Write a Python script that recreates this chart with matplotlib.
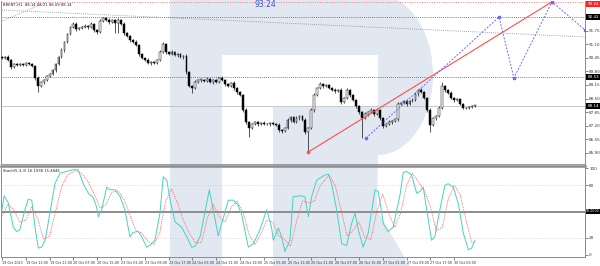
import numpy as np
import matplotlib
matplotlib.use("Agg")
import matplotlib.pyplot as plt
from matplotlib.patches import Polygon
from matplotlib.transforms import blended_transform_factory

# BRENT H1 closes, one per bar (bar 0 .. 159)
closes = [
  90.45,90.50,90.35,90.02,90.16,90.11,90.16,90.11,90.21,90.16,90.07,89.49,89.10,89.30,89.39,89.58,89.68,89.87,90.16,90.50,
  90.84,91.22,91.61,91.94,92.09,91.85,91.90,91.94,91.99,91.94,92.09,91.80,91.70,92.23,92.38,92.28,92.18,92.28,92.14,92.28,
  92.09,91.65,91.51,91.32,91.22,91.08,90.64,90.45,90.35,90.21,90.26,90.21,90.35,90.74,91.12,90.74,90.64,90.74,90.60,90.64,
  90.50,90.55,89.78,89.10,89.01,89.30,89.39,89.39,89.34,89.44,89.30,89.39,89.30,89.49,89.39,89.20,89.10,89.25,89.01,88.81,
  88.67,87.95,87.37,87.08,87.27,87.37,87.27,87.32,87.27,87.27,87.32,87.27,87.22,86.98,86.94,87.08,87.47,87.61,87.37,87.56,
  87.66,87.47,86.89,87.08,87.95,88.67,89.01,89.20,89.10,89.15,89.01,88.91,88.86,88.91,88.33,88.52,88.91,88.67,88.43,88.14,
  87.85,87.56,87.75,87.85,87.95,87.75,87.95,87.56,87.18,87.27,87.37,87.42,87.51,88.23,88.28,88.38,88.23,88.38,88.43,88.71,
  88.91,88.81,88.52,87.95,87.22,87.56,87.66,88.04,89.10,88.91,88.76,88.52,88.43,88.48,88.23,88.04,88.04,88.09,88.14,88.14,
]
first_open = 90.50
upper_wick = [
  .06,.05,.08,.04,.06,.05,.04,.06,.05,.04,.06,.05,.08,.06,.04,.05,.06,.04,.05,.06,
  .08,.06,.05,.06,.08,.1,.06,.05,.08,.06,.1,.06,.05,.08,.04,.06,.08,.05,.06,.08,
  .06,.08,.05,.06,.05,.08,.06,.05,.06,.08,.05,.06,.05,.08,.1,.05,.06,.08,.05,.06,
  .05,.06,.08,.05,.06,.08,.05,.06,.05,.08,.06,.05,.06,.05,.08,.06,.05,.06,.08,.05,
  .06,.05,.08,.06,.05,.06,.05,.06,.08,.05,.06,.05,.06,.08,.05,.06,.08,.06,.05,.08,
  .06,.05,.08,.06,.1,.08,.06,.08,.06,.05,.06,.05,.08,.06,.1,.06,.08,.05,.06,.05,
  .06,.05,.08,.06,.1,.05,.08,.06,.05,.06,.08,.06,.05,.08,.06,.05,.08,.06,.1,.08,
  .06,.08,.05,.06,.08,.06,.05,.08,.2,.06,.05,.08,.06,.05,.06,.05,.04,.05,.04,.03,
]
lower_wick = [
  .05,.06,.05,.08,.05,.04,.06,.05,.06,.04,.05,.08,.29,.06,.08,.05,.06,.05,.08,.06,
  .05,.08,.06,.05,.06,.08,.05,.06,.05,.08,.06,.08,.1,.05,.06,.05,.08,.06,.49,.49,
  .06,.1,.05,.08,.06,.05,.08,.06,.05,.06,.08,.05,.06,.05,.06,.08,.05,.06,.05,.08,
  .06,.08,.1,.06,.25,.06,.05,.08,.06,.05,.06,.08,.05,.06,.05,.08,.06,.05,.08,.1,
  .06,.08,.1,.43,.06,.05,.08,.06,.05,.06,.08,.05,.06,.1,.08,.06,.05,.08,.06,.05,
  .08,.06,.1,.97,.06,.08,.05,.06,.08,.06,.05,.06,.08,.06,.1,.06,.05,.08,.06,.1,
  .08,.96,.06,.08,.05,.1,.06,.08,.1,.06,.05,.08,.06,.08,.05,.06,.08,.05,.06,.05,
  .08,.06,.05,.1,.33,.06,.08,.05,.06,.08,.05,.06,.08,.05,.06,.05,.04,.06,.05,.04,
]

# Stochastic(5,3,3): main line and signal line, vertices (bar, value)
k_bar = [0, 0.7, 2.1, 3.8, 4.9, 6.0, 7.7, 8.8, 10.0, 11.1,
         12.2, 13.3, 14.5, 16.1, 17.8, 19.5, 21.7, 24.0, 25.6, 27.3,
         29.0, 30.7, 31.8, 32.4, 33.5, 35.2, 36.3, 38.0, 39.7, 41.3,
         43.0, 44.1, 45.8, 47.0, 48.6, 49.7, 51.4, 53.1, 54.2, 55.4,
         56.5, 58.2, 60.4, 62.1, 63.8, 64.9, 66.6, 69.7, 72.7, 76.1,
         77.8, 79.4, 80.6, 82.8, 84.5, 86.7, 89.0, 90.6, 91.2, 92.9,
         94.0, 95.1, 96.8, 97.9, 100.2, 101.8, 103.0, 104.1, 105.8, 108.6,
         109.7, 110.8, 112.5, 114.2, 115.9, 117.5, 118.7, 119.8, 121.4, 123.1,
         125.4, 126.5, 128.2, 129.8, 131.5, 133.8, 134.9, 136.0, 137.7, 139.4,
         140.5, 141.6, 142.8, 144.4, 145.5, 147.2, 148.9, 150.0, 151.7, 153.4,
         155.1, 156.8, 157.9, 159.0]
k_val = [52, 68, 60, 32, 27, 29, 52, 64, 63, 32,
         8, 9, 17, 48, 82, 94, 96, 98, 98, 82,
         71, 66, 55, 44, 52, 78, 75, 75, 67, 52,
         21, 26, 27, 21, 9, 11, 17, 48, 90, 86,
         63, 38, 32, 21, 9, 10, 21, 75, 22, 63,
         63, 57, 46, 9, 13, 29, 52, 32, 17, 31,
         21, 4, 17, 67, 68, 67, 44, 67, 86, 92,
         93, 82, 52, 13, 11, 36, 48, 29, 9, 25,
         75, 73, 36, 27, 32, 69, 95, 96, 92, 71,
         73, 78, 52, 17, 21, 52, 80, 82, 78, 59,
         25, 6, 8, 17]
d_bar = [0, 2, 4, 6, 8, 10, 12, 14, 16, 18, 20, 22, 25, 27, 29, 31, 33, 35, 37, 39,
         41, 43, 45, 47, 49, 51, 53, 55, 57, 59, 61, 63, 65, 67, 69, 71, 73, 75, 77, 79,
         81, 83, 85, 87, 89, 91, 93, 95, 97, 99, 101, 103, 105, 107, 110, 112, 114, 116, 118, 120,
         122, 124, 126, 128, 130, 132, 134, 136, 138, 140, 142, 144, 146, 148, 150, 152, 154, 156, 158, 159]
d_val = [45, 58, 52, 38, 40, 55, 42, 18, 22, 50, 78, 92, 97, 93, 84, 70, 54, 58, 72, 74,
         64, 46, 28, 25, 16, 12, 25, 62, 76, 60, 40, 25, 14, 14, 42, 58, 44, 38, 55, 62,
         50, 24, 12, 24, 40, 38, 22, 18, 10, 38, 62, 60, 62, 80, 92, 80, 52, 22, 28, 38,
         20, 18, 50, 70, 48, 32, 48, 80, 94, 84, 74, 56, 28, 32, 64, 80, 70, 40, 14, 15]

# levels and drawn objects
level_hi = 92.42
level_mid = 89.53
last_price = 88.14
target = 93.15
red_bars = [103, 184.9]
red_prices = [85.93, 93.15]
zig_bars = [122.4, 167.1, 172.1, 184.9, 196.0]
zig_prices = [86.60, 92.42, 89.49, 93.15, 91.80]
trend_bars = [-0.7, 196.0]
trend_prices = [92.76, 91.46]
fan_bars = [-0.7, 14.5]
fan_prices = [92.18, 93.10]

price_ticks = [91.75, 91.10, 90.45, 89.80, 89.15, 88.50, 87.85, 87.20, 86.55, 85.90]
stoch_ticks = [0, 20, 80, 100]
time_bars = list(range(0, 160, 8))
time_labels = ["19 Oct 2023", "19 Oct 13:00", "19 Oct 21:00", "20 Oct 07:00", "20 Oct 15:00",
               "23 Oct 01:00", "23 Oct 09:00", "23 Oct 17:00", "24 Oct 03:00", "24 Oct 11:00",
               "24 Oct 19:00", "25 Oct 05:00", "25 Oct 13:00", "25 Oct 21:00", "26 Oct 07:00",
               "26 Oct 15:00", "27 Oct 01:00", "27 Oct 09:00", "27 Oct 17:00", "30 Oct 03:00"]

W, H = 600, 266
fig = plt.figure(figsize=(W / 100, H / 100), dpi=100)
fig.patch.set_facecolor("white")

def px(x, y):
  return (x / W, 1 - y / H)

# big "R" watermark behind the chart
t = np.linspace(-np.pi / 2, np.pi / 2, 40)
arc = [(378 + 55 * np.cos(a), 75 + 80 * np.sin(a)) for a in t]
shape = [(170, -5)] + arc + [(377, 210), (412, 270), (273, 270), (273, 107),
                             (378, 107), (378, 55), (222, 55), (222, 270), (170, 270)]
fig.add_artist(Polygon([px(x, y) for x, y in shape], closed=True,
                       transform=fig.transFigure, fc="#e1e8f1", ec="none", zorder=-1))

ax = fig.add_axes([1 / W, 1 - 164 / H, 584 / W, 163 / H])
axs = fig.add_axes([1 / W, 1 - 257 / H, 584 / W, 91 / H])
for a in (ax, axs):
  a.set_facecolor("none")
  a.set_xlim(-0.34, 196.0)
  for s in a.spines.values():
    s.set_color("#8c8c8c")
    s.set_linewidth(0.7)
ax.spines["bottom"].set_linewidth(0.6)
axs.spines["top"].set_linewidth(1.8)
ax.spines["top"].set_visible(False)

# candles
c = np.array(closes)
o = np.r_[first_open, c[:-1]]
hi = np.maximum(o, c) + np.array(upper_wick)
lo = np.minimum(o, c) - np.array(lower_wick)
idx = np.arange(len(c))
bull = c >= o
ax.vlines(idx, lo, hi, color="#111111", lw=0.5, zorder=3)
ax.bar(idx, np.maximum(np.abs(c - o), 0.025), bottom=np.minimum(o, c), width=0.62,
       color=np.where(bull, "white", "black"), edgecolor="#111111", linewidth=0.35, zorder=4)

ax.set_ylim(85.35, 93.19)
ax.axhline(level_hi, color="#555555", lw=0.6, ls=(0, (1, 1.5)), zorder=2)
ax.axhline(level_mid, color="#555555", lw=0.6, ls=(0, (1, 1.5)), zorder=2)
ax.axhline(last_price, color="#c0c0c0", lw=0.6, zorder=1)
ax.axhline(target, color="#f08080", lw=0.7, ls=(0, (1, 1.5)), zorder=2)
ax.plot(trend_bars, trend_prices, color="#8a8a8a", lw=0.6, ls=(0, (1, 1.5)), zorder=2)
ax.plot(fan_bars, fan_prices, color="#8a8a8a", lw=0.6, ls=(0, (1, 1.5)), zorder=2)
ax.plot(red_bars, red_prices, color="#ff4d4d", lw=0.8, marker="o", ms=1.6, zorder=5)
ax.plot(zig_bars, zig_prices, color="#6b6bff", lw=0.7, ls=(0, (2, 1.5)),
        marker="s", ms=1.5, zorder=5)

ax.text(88.4, 93.0, "93.24", color="#3556e0", fontsize=5.5, ha="center", va="center", zorder=6)
ax.text(0.004, 0.985, "BRENT,H1  88.14 88.21 88.09 88.14", transform=ax.transAxes,
        fontsize=2.7, va="top", ha="left", color="#222222")

ax.yaxis.tick_right()
ax.set_yticks(price_ticks)
ax.set_yticklabels([f"{p:.2f}" for p in price_ticks], fontsize=3, color="#333333")
ax.tick_params(axis="y", length=2, width=0.5, pad=1, colors="#555555")
ax.tick_params(axis="x", length=0, labelbottom=False)

tr = blended_transform_factory(ax.transAxes, ax.transData)
for val, txt, bg in [(level_hi, "92.42", "black"), (level_mid, "89.53", "black"),
                     (last_price, "88.14", "black"), (93.05, "93.24", "#ff2020")]:
  ax.text(1.004, val, txt, transform=tr, fontsize=3, color="white", va="center", ha="left",
          bbox=dict(boxstyle="square,pad=0.25", fc=bg, ec="none"), clip_on=False, zorder=7)

# stochastic panel
axs.set_ylim(-2.3, 102.3)
axs.axhline(80, color="#cccccc", lw=0.5, ls=(0, (1, 1.5)))
axs.axhline(20, color="#cccccc", lw=0.5, ls=(0, (1, 1.5)))
axs.axhline(50, color="#8c8c8c", lw=1.4)
axs.plot(k_bar, k_val, color="#48d1c0", lw=0.7, zorder=3)
axs.plot(d_bar, d_val, color="#ff6a6a", lw=0.6, ls=(0, (1.5, 1.2)), zorder=3)
axs.text(0.004, 0.965, "Stoch(5,3,3) 16.1938 15.4846", transform=axs.transAxes,
         fontsize=2.7, va="top", ha="left", color="#222222")

axs.yaxis.tick_right()
axs.set_yticks(stoch_ticks)
axs.set_yticklabels([str(v) for v in stoch_ticks], fontsize=3, color="#333333")
axs.tick_params(axis="y", length=2, width=0.5, pad=1, colors="#555555")
trs = blended_transform_factory(axs.transAxes, axs.transData)
axs.text(1.002, 50, "50.0000", transform=trs, fontsize=2.3, color="white", va="center", ha="left",
         bbox=dict(boxstyle="square,pad=0.15", fc="black", ec="none"), clip_on=False)

axs.set_xticks(time_bars)
axs.set_xticklabels(time_labels, fontsize=2.4, ha="left", color="#333333")
axs.tick_params(axis="x", length=2, width=0.5, pad=0.8, colors="#555555")
for lab in axs.get_xticklabels() + axs.get_yticklabels() + ax.get_yticklabels():
  lab.set_color("#333333")

fig.savefig("out.png", dpi=100, facecolor="white")
